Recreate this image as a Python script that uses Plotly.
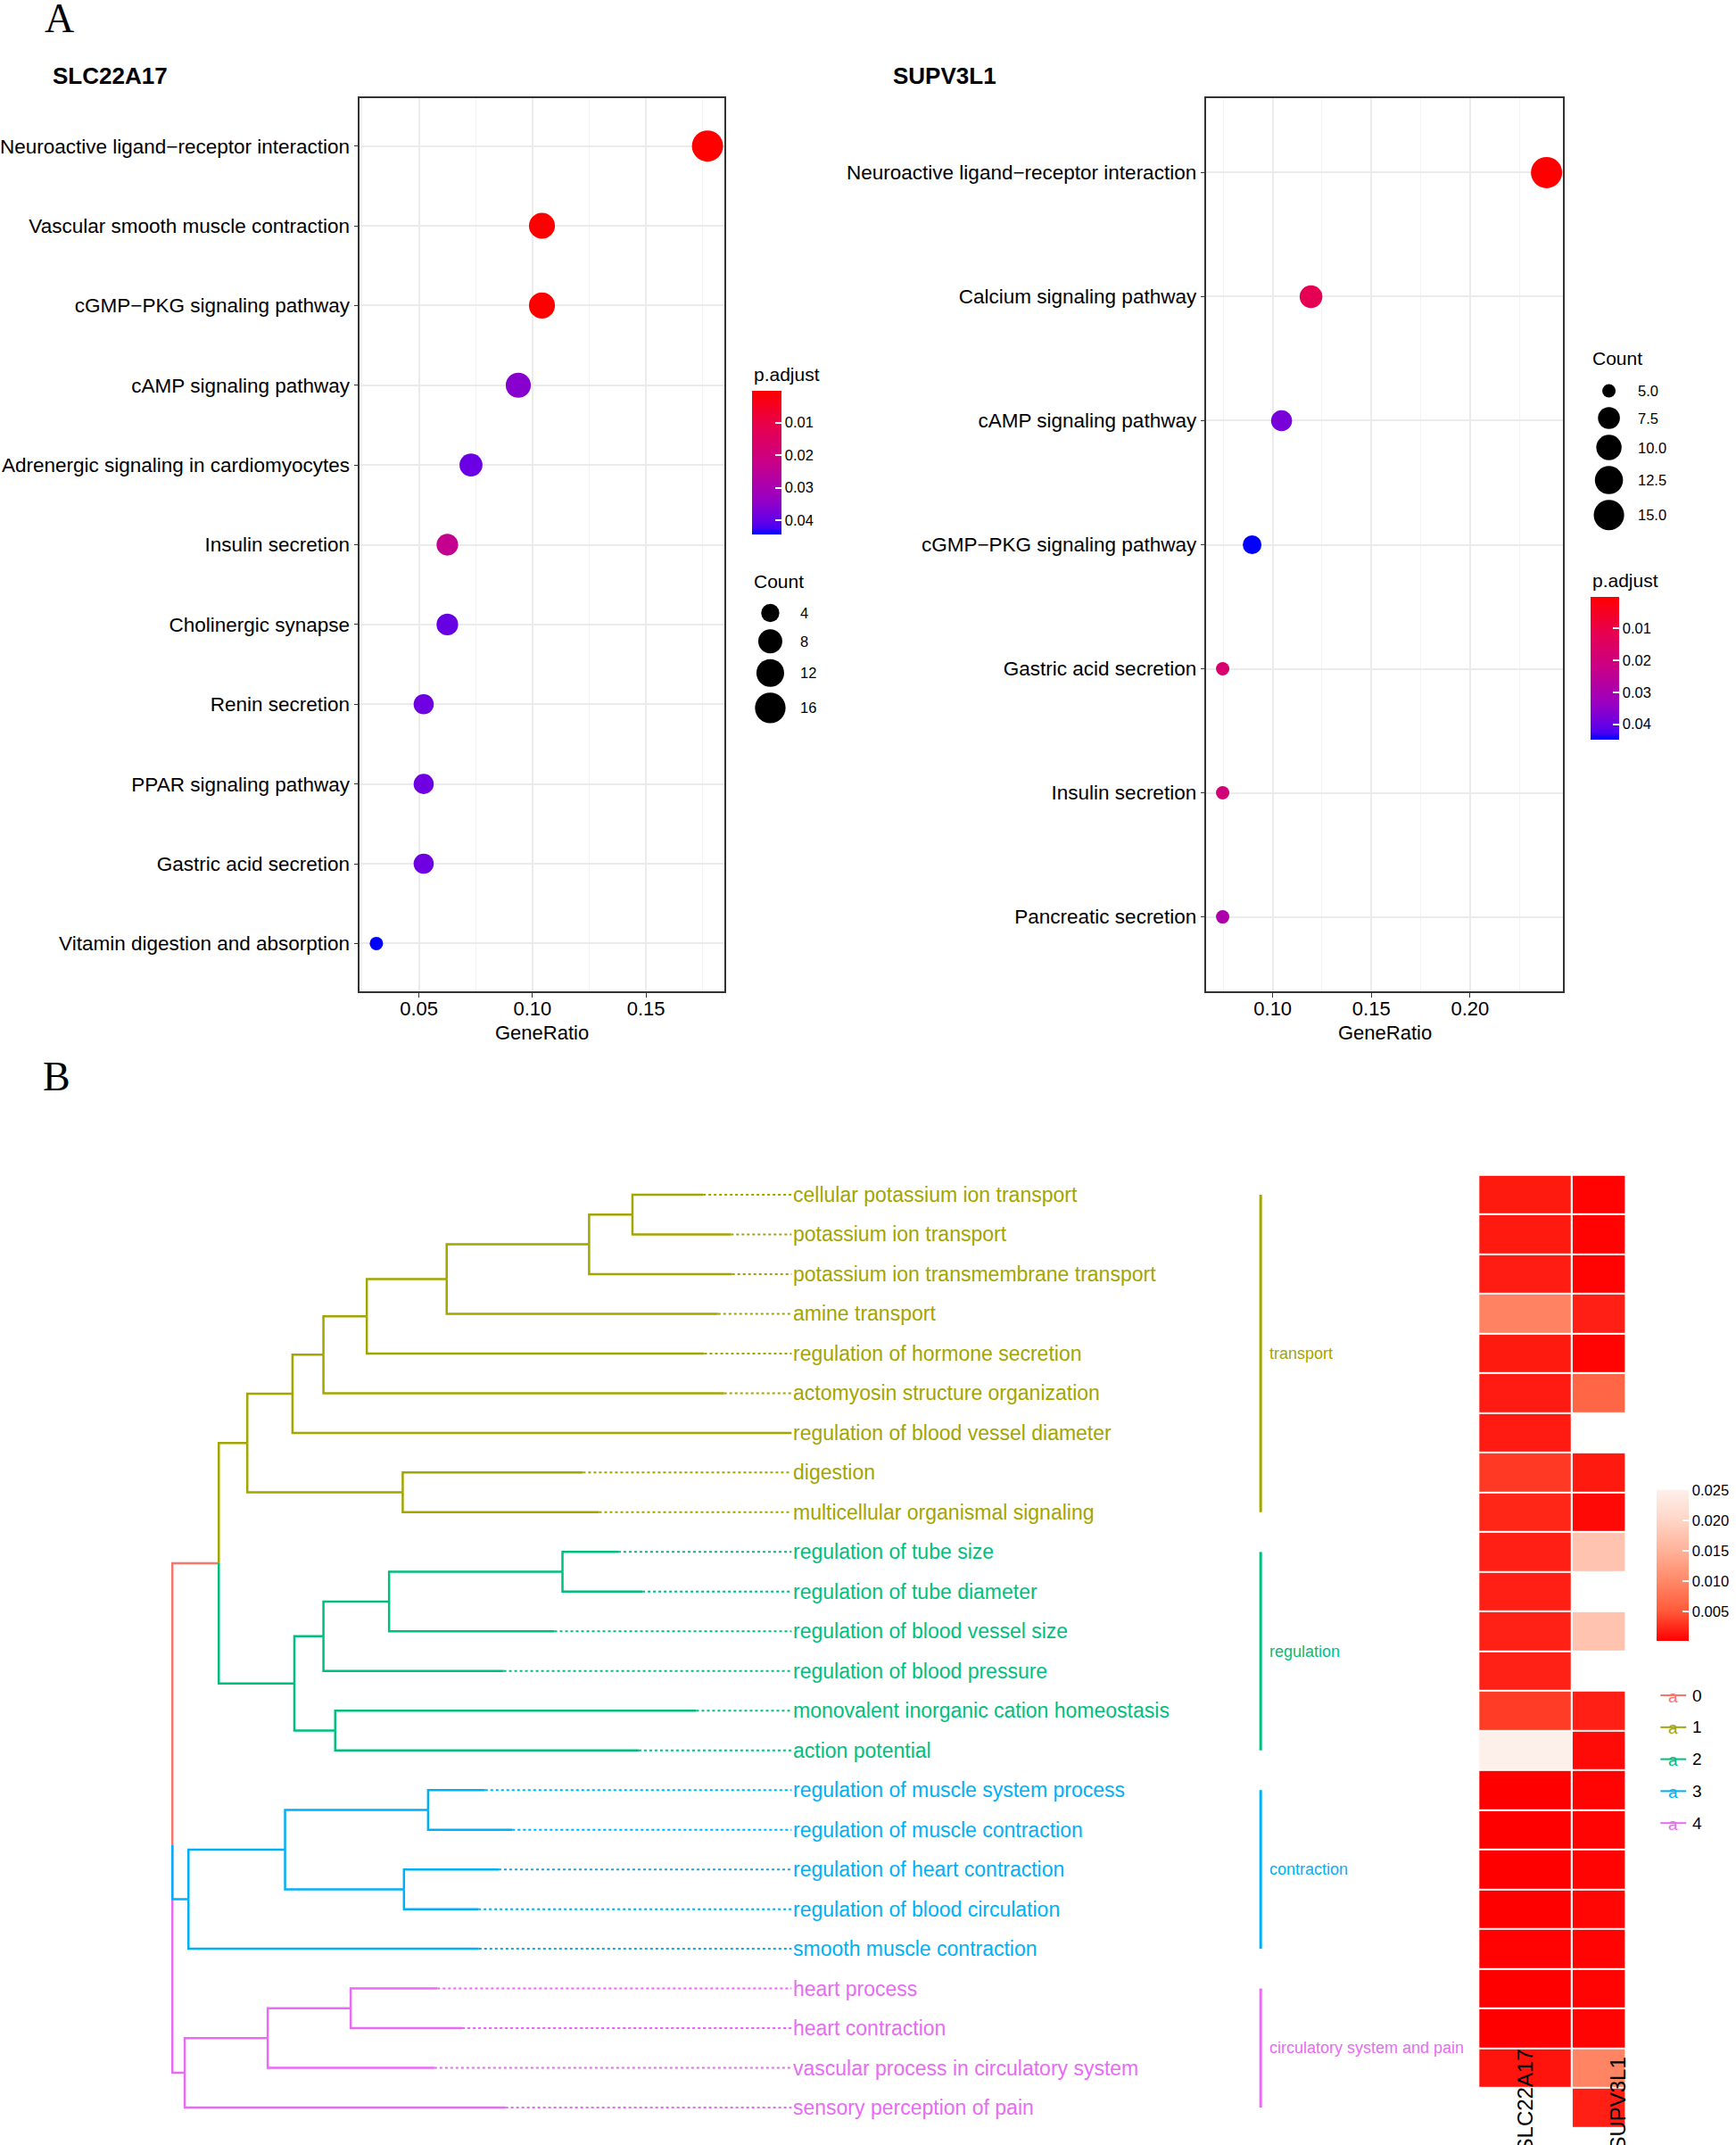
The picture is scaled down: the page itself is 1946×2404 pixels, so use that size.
import math
import plotly.graph_objects as go

W, H = 1946, 2404
FONT = "Liberation Sans, Arial, sans-serif"
SERIF = "Liberation Serif, Times New Roman, serif"

# ---------------- Panel A data ----------------
slc_terms = ["Neuroactive ligand−receptor interaction", "Vascular smooth muscle contraction",
             "cGMP−PKG signaling pathway", "cAMP signaling pathway",
             "Adrenergic signaling in cardiomyocytes", "Insulin secretion", "Cholinergic synapse",
             "Renin secretion", "PPAR signaling pathway", "Gastric acid secretion",
             "Vitamin digestion and absorption"]
slc_count = [17, 10, 10, 9, 7, 6, 6, 5, 5, 5, 3]
slc_total = 96
slc_padj = [0.0002, 0.0004, 0.0004, 0.0355, 0.0395, 0.0235, 0.0397, 0.039, 0.039, 0.039, 0.0444]
slc_size_breaks = [4, 8, 12, 16]

sup_terms = ["Neuroactive ligand−receptor interaction", "Calcium signaling pathway",
             "cAMP signaling pathway", "cGMP−PKG signaling pathway", "Gastric acid secretion",
             "Insulin secretion", "Pancreatic secretion"]
sup_count = [16, 8, 7, 6, 5, 5, 5]
sup_total = 67
sup_padj = [0.0001, 0.012, 0.038, 0.0449, 0.017, 0.019, 0.029]
sup_size_breaks = [5.0, 7.5, 10.0, 12.5, 15.0]

padj_ticks = [0.01, 0.02, 0.03, 0.04]

# ---------------- Panel B data ----------------
go_terms = ["cellular potassium ion transport", "potassium ion transport",
            "potassium ion transmembrane transport", "amine transport",
            "regulation of hormone secretion", "actomyosin structure organization",
            "regulation of blood vessel diameter", "digestion", "multicellular organismal signaling",
            "regulation of tube size", "regulation of tube diameter", "regulation of blood vessel size",
            "regulation of blood pressure", "monovalent inorganic cation homeostasis", "action potential",
            "regulation of muscle system process", "regulation of muscle contraction",
            "regulation of heart contraction", "regulation of blood circulation",
            "smooth muscle contraction", "heart process", "heart contraction",
            "vascular process in circulatory system", "sensory perception of pain"]
go_cluster = [1] * 9 + [2] * 6 + [3] * 5 + [4] * 4
cluster_names = ["", "transport", "regulation", "contraction", "circulatory system and pain"]
# tip depth of each leaf (root = 0, label alignment = 1)
leaf_depth = [0.857, 0.902, 0.904, 0.881, 0.859, 0.891, 1.0, 0.663, 0.689,
              0.720, 0.759, 0.617, 0.535, 0.846, 0.753,
              0.505, 0.549, 0.527, 0.494, 0.495,
              0.428, 0.468, 0.423, 0.538]
# internal nodes (bottom-up): name, children, depth
tree_nodes = [
    ("a01", ["0", "1"], 0.743),
    ("a012", ["a01", "2"], 0.673),
    ("a0123", ["a012", "3"], 0.443),
    ("a0_4", ["a0123", "4"], 0.314),
    ("a0_5", ["a0_4", "5"], 0.244),
    ("a0_6", ["a0_5", "6"], 0.194),
    ("a78", ["7", "8"], 0.372),
    ("a0_8", ["a0_6", "a78"], 0.121),
    ("b9_10", ["9", "10"], 0.630),
    ("b9_11", ["b9_10", "11"], 0.350),
    ("b9_12", ["b9_11", "12"], 0.244),
    ("b13_14", ["13", "14"], 0.263),
    ("b9_14", ["b9_12", "b13_14"], 0.197),
    ("c12", ["a0_8", "b9_14"], 0.075),
    ("d15_16", ["15", "16"], 0.413),
    ("d17_18", ["17", "18"], 0.374),
    ("d15_18", ["d15_16", "d17_18"], 0.182),
    ("d15_19", ["d15_18", "19"], 0.026),
    ("e20_21", ["20", "21"], 0.288),
    ("e20_22", ["e20_21", "22"], 0.154),
    ("e20_23", ["e20_22", "23"], 0.020),
    ("root", ["c12", "d15_19", "e20_23"], 0.0),
]
heat_cols = ["SLC22A17", "SUPV3L1"]
slc_go_padj = [0.0015, 0.0015, 0.0017, 0.0093, 0.0015, 0.0016, 0.0016, 0.0032, 0.0022,
               0.0018, 0.0018, 0.0019, 0.0019, 0.0034, 0.0250,
               0.0001, 0.0001, 0.0001, 0.0001, 0.0002, 0.0001, 0.0001, 0.0012, None]
sup_go_padj = [0.0002, 0.0002, 0.0002, 0.0018, 0.0003, 0.0063, None, 0.0015, 0.0006,
               0.0175, None, 0.0175, None, 0.0018, 0.0007,
               0.0003, 0.0003, 0.0003, 0.0004, 0.0003, 0.0003, 0.0003, 0.0095, 0.0018]
heat_ticks = [0.005, 0.010, 0.015, 0.020, 0.025]

# ---------------- styles ----------------
PADJ_SCALE = [[0, "#0000FF"], [0.05, "#4B00F3"], [0.1, "#6600E6"], [0.25, "#9900C2"],
              [0.5, "#C90088"], [0.75, "#E7004F"], [1, "#FF0000"]]
HEAT_SCALE = [[0, "#FF0000"], [0.2, "#FF5B3A"], [0.4, "#FF8969"], [0.6, "#FFB299"],
              [0.8, "#FFD5C6"], [1, "#FDF0EA"]]
GROUP_COLORS = ["#F8766D", "#A3A500", "#00BF7D", "#00B0F6", "#E76BF3"]
DMIN, DMAX = 15, 35


def px_x(p):
    return p / W


def px_y(p):
    return 1 - p / H


def dot_size(c, cmin, cmax):
    return DMIN + (DMAX - DMIN) * math.sqrt(max(0.0, (c - cmin) / (cmax - cmin)))


fig = go.Figure()
annotations = []


def ann(text, x, y, size, color="black", xanchor="left", yanchor="middle", family=FONT, **kw):
    annotations.append(dict(text=text, x=px_x(x), y=px_y(y), xref="paper", yref="paper",
                            showarrow=False, xanchor=xanchor, yanchor=yanchor,
                            font=dict(size=size, color=color, family=family), **kw))


def dot_panel(terms, counts, total, padj, xa, ya, cax):
    ratio = [c / total for c in counts]
    cmin, cmax = min(counts), max(counts)
    sizes = [dot_size(c, cmin, cmax) for c in counts]
    fig.add_trace(go.Scatter(x=ratio, y=terms, mode="markers",
                             marker=dict(size=sizes, color=[-p for p in padj], coloraxis=cax,
                                         line=dict(width=0), opacity=1),
                             xaxis=xa, yaxis=ya, showlegend=False, hoverinfo="skip"))
    lo, hi = min(ratio), max(ratio)
    pad = (hi - lo) * 0.05
    return [lo - pad, hi + pad]


xr1 = dot_panel(slc_terms, slc_count, slc_total, slc_padj, "x", "y", "coloraxis")
xr2 = dot_panel(sup_terms, sup_count, sup_total, sup_padj, "x2", "y2", "coloraxis2")


# ---- size legends (overlay axis in pixel units)
def size_legend(breaks, counts, x_circle, y_first, x_label, fmt):
    cmin, cmax = min(counts), max(counts)
    d = [dot_size(b, cmin, cmax) for b in breaks]
    h = [max(di + 6.5, 30) for di in d]
    ys = [y_first]
    for i in range(1, len(d)):
        ys.append(ys[-1] + (h[i - 1] + h[i]) / 2)
    fig.add_trace(go.Scatter(x=[x_circle] * len(d), y=ys, mode="markers",
                             marker=dict(size=d, color="#000000", opacity=1, line=dict(width=0)),
                             xaxis="x9", yaxis="y9", showlegend=False, hoverinfo="skip"))
    for b, yy in zip(breaks, ys):
        ann(fmt.format(b), x_label, yy, 16.5)


size_legend(slc_size_breaks, slc_count, 864, 687, 896, "{:g}")
size_legend(sup_size_breaks, sup_count, 1808, 438, 1839, "{:.1f}")

# ---------------- Panel B: dendrogram ----------------
pos = {}
for i in range(len(go_terms)):
    pos[str(i)] = (leaf_depth[i], i, go_cluster[i])
for name, children, depth in tree_nodes:
    ys = [pos[c][1] for c in children]
    groups = {pos[c][2] for c in children}
    g = groups.pop() if len(groups) == 1 else 0
    pos[name] = (depth, sum(ys) / len(ys), g)

segs = {g: ([], []) for g in range(5)}
for name, children, depth in tree_nodes:
    x0, y0, _ = pos[name]
    for c in children:
        cx, cy, cg = pos[c]
        xs, ys = segs[cg]
        xs += [x0, x0, cx, None]
        ys += [y0, cy, cy, None]

for g in [0, 1, 2, 4, 3]:
    xs, ys = segs[g]
    if xs:
        fig.add_trace(go.Scatter(x=xs, y=ys, mode="lines",
                                 line=dict(color=GROUP_COLORS[g], width=2.5),
                                 xaxis="x3", yaxis="y3", showlegend=False, hoverinfo="skip"))

# dotted leaders
for g in range(1, 5):
    xs, ys = [], []
    for i in range(len(go_terms)):
        if go_cluster[i] == g and leaf_depth[i] < 1.0:
            xs += [leaf_depth[i], 1.0, None]
            ys += [i, i, None]
    fig.add_trace(go.Scatter(x=xs, y=ys, mode="lines",
                             line=dict(color=GROUP_COLORS[g], width=2, dash="dot"),
                             xaxis="x3", yaxis="y3", showlegend=False, hoverinfo="skip"))

for i, t in enumerate(go_terms):
    annotations.append(dict(text=t, x=1.0, y=i, xref="x3", yref="y3", showarrow=False,
                            xanchor="left", yanchor="middle",
                            font=dict(size=23, color=GROUP_COLORS[go_cluster[i]], family=FONT)))

# cluster bars
TREE_ROOT_PX, TREE_LABEL_PX = 191, 888
TREE_SCALE = TREE_LABEL_PX - TREE_ROOT_PX
BAR_X = (1416 - TREE_ROOT_PX) / TREE_SCALE
BAR_LABEL_X = (1424 - TREE_ROOT_PX) / TREE_SCALE
for g in range(1, 5):
    idx = [i for i in range(len(go_terms)) if go_cluster[i] == g]
    fig.add_trace(go.Scatter(x=[BAR_X, BAR_X], y=[min(idx), max(idx)], mode="lines",
                             line=dict(color=GROUP_COLORS[g], width=3),
                             xaxis="x3", yaxis="y3", showlegend=False, hoverinfo="skip"))
    annotations.append(dict(text=cluster_names[g], x=BAR_LABEL_X, y=(min(idx) + max(idx)) / 2,
                            xref="x3", yref="y3", showarrow=False, xanchor="left",
                            yanchor="middle",
                            font=dict(size=18, color=GROUP_COLORS[g], family=FONT)))

# heatmap
rows = list(range(len(go_terms)))
for col, vals, xa in [(heat_cols[0], slc_go_padj, "x4"), (heat_cols[1], sup_go_padj, "x5")]:
    fig.add_trace(go.Heatmap(z=[[v] for v in vals], x=[col], y=rows, coloraxis="coloraxis3",
                             ygap=2, xgap=0, xaxis=xa, yaxis="y3", hoverinfo="skip"))

LEAF0_PX, LEAF_STEP = 1339, 44.48
annotations.append(dict(text=heat_cols[0], x=heat_cols[0], y=(2294 - LEAF0_PX) / LEAF_STEP,
                        xref="x4", yref="y3", showarrow=False, textangle=-90,
                        xanchor="center", yanchor="top",
                        font=dict(size=24, color="black", family=FONT)))
annotations.append(dict(text=heat_cols[1], x=heat_cols[1], y=(2304 - LEAF0_PX) / LEAF_STEP,
                        xref="x5", yref="y3", showarrow=False, textangle=-90, xshift=21,
                        xanchor="center", yanchor="top",
                        font=dict(size=24, color="black", family=FONT)))

# cluster legend (lines + "a")
for g in range(5):
    yy = 1900 + 35.8 * g
    fig.add_trace(go.Scatter(x=[1866, 1895], y=[yy, yy], mode="lines",
                             line=dict(color=GROUP_COLORS[g], width=2),
                             xaxis="x9", yaxis="y9", showlegend=False, hoverinfo="skip"))
    ann("a", 1880, yy + 1, 19, color=GROUP_COLORS[g], xanchor="center")
    ann(str(g), 1900, yy, 19)

# ---------------- text ----------------
ann("A", 64, 21, 46, xanchor="center", family=SERIF)
ann("B", 61, 1206, 46, xanchor="center", family=SERIF)
ann("<b>SLC22A17</b>", 54, 85, 26)
ann("<b>SUPV3L1</b>", 1000, 85, 26)
ann("GeneRatio", (402 + 812) / 2, 1157, 22, xanchor="center")
ann("GeneRatio", (1355 + 1756) / 2, 1157, 22, xanchor="center")
ann("p.adjust", 843, 419, 21)
ann("Count", 843, 651, 21)
ann("Count", 1787, 402, 21)
ann("p.adjust", 1787, 650, 21)


def dot_xaxis(dom, rng, anchor):
    return dict(domain=dom, range=rng, anchor=anchor, tick0=0, dtick=0.05, tickformat=".2f",
                showgrid=True, gridcolor="#EBEBEB", gridwidth=2,
                minor=dict(dtick=0.025, tick0=0, showgrid=True, gridcolor="#F3F3F3", gridwidth=1),
                showline=True, mirror=True, linecolor="#333333", linewidth=1.5,
                ticks="outside", ticklen=5, tickcolor="#333333", ticklabelstandoff=-6,
                tickfont=dict(size=22, color="black", family=FONT), zeroline=False)


def dot_yaxis(dom, terms, anchor):
    n = len(terms)
    return dict(domain=dom, anchor=anchor, type="category", categoryorder="array",
                categoryarray=terms,
                range=[n - 0.4, -0.6], showgrid=True, gridcolor="#EBEBEB", gridwidth=2,
                showline=True, mirror=True, linecolor="#333333", linewidth=1.5,
                ticks="outside", ticklen=5, tickcolor="#333333",
                tickfont=dict(size=22.5, color="black", family=FONT), zeroline=False)


def cbar(x, ytop, length, thick, tickvals, ticktext, size):
    return dict(x=px_x(x), xanchor="left", xpad=0, y=px_y(ytop), yanchor="top", ypad=0,
                len=length, lenmode="pixels", thickness=thick, thicknessmode="pixels",
                outlinewidth=0, tickmode="array", tickvals=tickvals, ticktext=ticktext,
                ticks="inside", ticklen=7, tickwidth=1.5, tickcolor="white",
                tickfont=dict(size=size, color="black", family=FONT))


hidden = dict(visible=False, showgrid=False, zeroline=False)
heat_vals = [v for v in slc_go_padj + sup_go_padj if v is not None]

fig.update_layout(
    width=W, height=H, margin=dict(l=0, r=0, t=0, b=0),
    paper_bgcolor="white", plot_bgcolor="rgba(0,0,0,0)", showlegend=False,
    font=dict(family=FONT),
    xaxis=dot_xaxis([px_x(402), px_x(812)], xr1, "y"),
    yaxis=dot_yaxis([px_y(1111), px_y(110)], slc_terms, "x"),
    xaxis2=dot_xaxis([px_x(1355), px_x(1756)], xr2, "y2"),
    yaxis2=dot_yaxis([px_y(1111), px_y(110)], sup_terms, "x2"),
    xaxis3=dict(domain=[0, 1], range=[-TREE_ROOT_PX / TREE_SCALE, (W - TREE_ROOT_PX) / TREE_SCALE],
                anchor="y3", **hidden),
    yaxis3=dict(domain=[0, px_y(1300)],
                range=[(H - LEAF0_PX) / LEAF_STEP, (1300 - LEAF0_PX) / LEAF_STEP],
                anchor="x3", **hidden),
    xaxis4=dict(domain=[px_x(1662), px_x(1765)], range=[-0.5, 0.5], anchor="y3", **hidden),
    xaxis5=dict(domain=[px_x(1767), px_x(1826)], range=[-0.5, 0.5], anchor="y3", **hidden),
    xaxis9=dict(domain=[0, 1], range=[0, W], anchor="y9", **hidden),
    yaxis9=dict(domain=[0, 1], range=[H, 0], anchor="x9", **hidden),
    coloraxis=dict(colorscale=PADJ_SCALE, cmin=-max(slc_padj), cmax=-min(slc_padj),
                   colorbar=cbar(843, 438, 161, 33, [-v for v in padj_ticks],
                                 ["%.2f" % v for v in padj_ticks], 16.5)),
    coloraxis2=dict(colorscale=PADJ_SCALE, cmin=-max(sup_padj), cmax=-min(sup_padj),
                    colorbar=cbar(1787, 669, 160, 32, [-v for v in padj_ticks],
                                  ["%.2f" % v for v in padj_ticks], 16.5)),
    coloraxis3=dict(colorscale=HEAT_SCALE, cmin=min(heat_vals), cmax=max(heat_vals),
                    colorbar=cbar(1862, 1670, 169, 36, heat_ticks,
                                  ["%.3f" % v for v in heat_ticks], 16.5)),
    annotations=annotations,
)

fig.write_html("out.html", config={"displayModeBar": False},
               post_script="document.body.style.margin='0px';document.body.style.padding='0px';")
